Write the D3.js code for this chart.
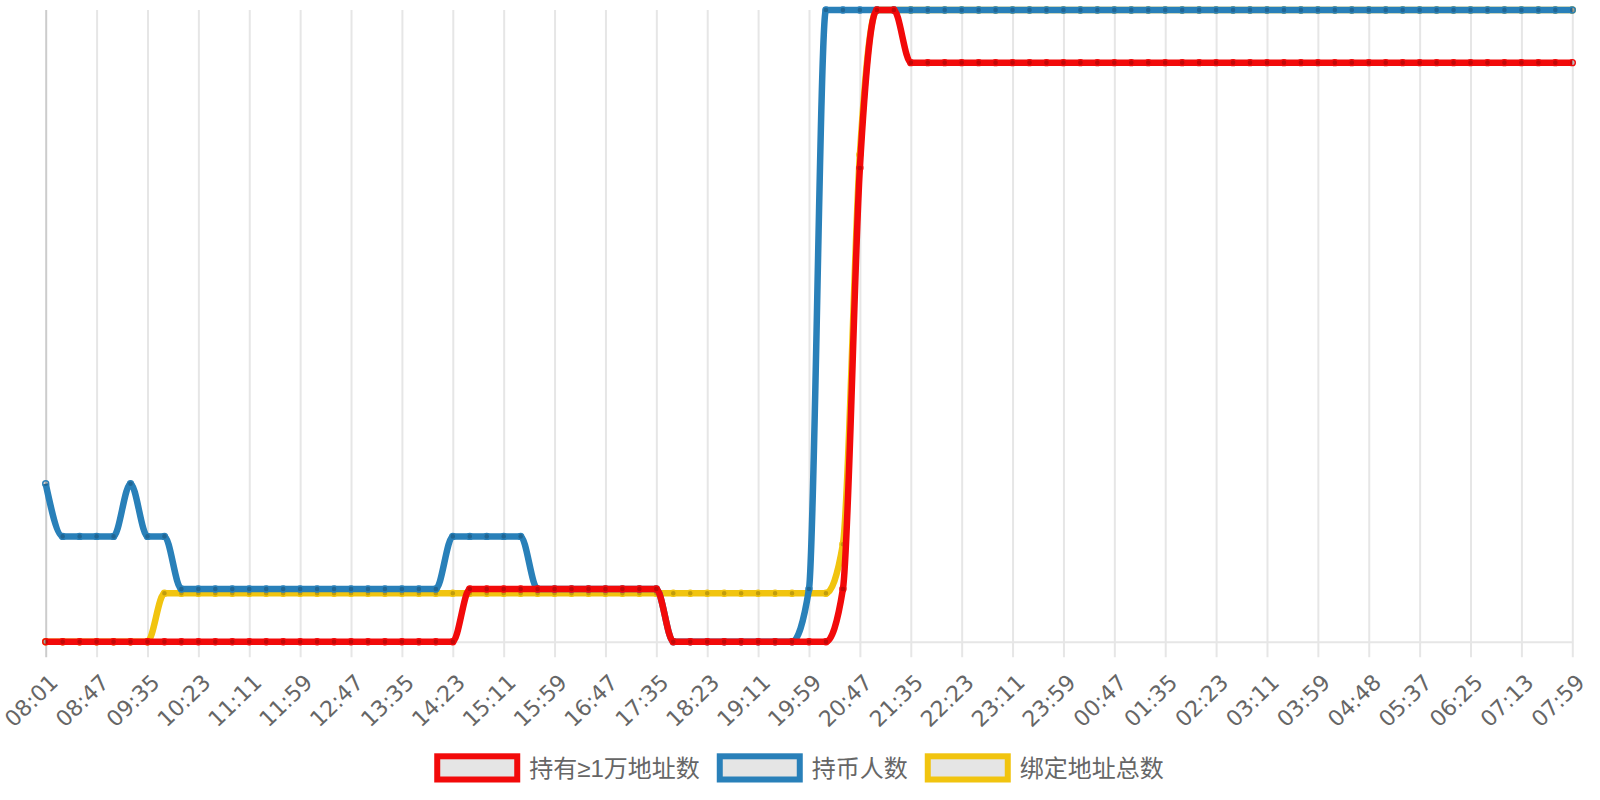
<!DOCTYPE html>
<html><head><meta charset="utf-8">
<script src="https://cdn.jsdelivr.net/npm/d3@7"></script>
<style>
html,body{margin:0;padding:0;background:#fff;}
svg{display:block;}
</style></head><body>
<svg id="chart" width="1600" height="800"></svg>
<script>
const categories = [
"08:01","08:16","08:32","08:47","09:03","09:19","09:35","09:51","10:07","10:23","10:39","10:55",
"11:11","11:27","11:43","11:59","12:15","12:31","12:47","13:03","13:19","13:35","13:51","14:07",
"14:23","14:39","14:55","15:11","15:27","15:43","15:59","16:15","16:31","16:47","17:03","17:19",
"17:35","17:51","18:07","18:23","18:39","18:55","19:11","19:27","19:43","19:59","20:15","20:31",
"20:47","21:03","21:19","21:35","21:51","22:07","22:23","22:39","22:55","23:11","23:27","23:43",
"23:59","00:15","00:31","00:47","01:03","01:19","01:35","01:51","02:07","02:23","02:39","02:55",
"03:11","03:27","03:43","03:59","04:15","04:32","04:48","05:04","05:21","05:37","05:53","06:09",
"06:25","06:41","06:57","07:13","07:28","07:44","07:59"];

const tickLabels = ["08:01","08:47","09:35","10:23","11:11","11:59","12:47","13:35","14:23","15:11",
"15:59","16:47","17:35","18:23","19:11","19:59","20:47","21:35","22:23","23:11","23:59","00:47",
"01:35","02:23","03:11","03:59","04:48","05:37","06:25","07:13","07:59"];

const seriesNames = ["持有≥1万地址数", "持币人数", "绑定地址总数"];

// 持有≥1万地址数
const redValues = [
0,0,0,0,0,0,0,0,0,0, 0,0,0,0,0,0,0,0,0,0, 0,0,0,0,0,
1,1,1,1,1,1,1,1,1,1,1,1,
0,0,0,0,0,0,0,0,0,0,
1,9,12,12,
11,11,11,11,11,11,11,11,11,11, 11,11,11,11,11,11,11,11,11,11,
11,11,11,11,11,11,11,11,11,11, 11,11,11,11,11,11,11,11,11,11];

// 持币人数
const blueValues = [
3,2,2,2,2,3,2,2,
1,1,1,1,1,1,1,1,1,1,1,1,1,1,1,1,
2,2,2,2,2,
1,1,1,1,1,1,1,1,
0,0,0,0,0,0,0,0,
1,
12,12,12,12,12,12,12,12,12,12, 12,12,12,12,12,12,12,12,12,12,
12,12,12,12,12,12,12,12,12,12, 12,12,12,12,12,12,12,12,12,12,
12,12,12,12,12];

// 绑定地址总数
const yellowValues = [
0,0,0,0,0,0,0,
0.92,0.92,0.92,0.92,0.92,0.92,0.92,0.92,0.92,0.92, 0.92,0.92,0.92,0.92,0.92,0.92,0.92,0.92,0.92,0.92,
0.92,0.92,0.92,0.92,0.92,0.92,0.92,0.92,0.92,0.92, 0.92,0.92,0.92,0.92,0.92,0.92,0.92,0.92,0.92,0.92,
1.85,9.25,
12,12,12,12,12,12,12,12,12,12, 12,12,12,12,12,12,12,12,12,12,
12,12,12,12,12,12,12,12,12,12, 12,12,12,12,12,12,12,12,12,12,
12,12];

const yDomain = [0, 12];

// ---- styles / layout (separate from data) ----
const seriesColors = ["#f20a0a", "#2980b9", "#f1c40f"];
const area = {left: 45.7, right: 1572.3, top: 10, bottom: 641.7};
const LEGEND_FONT = "'Liberation Sans', Arial, 'Noto Sans CJK SC', sans-serif";
const TICK_FONT = "'DejaVu Sans', sans-serif";

const svg = d3.select("#chart");
const x = d3.scalePoint().domain(categories).range([area.left, area.right]);
const y = d3.scaleLinear().domain(yDomain).range([area.bottom, area.top]);

// ---- x axis with grid ----
const xAxis = d3.axisBottom(x).tickValues(tickLabels).tickSizeInner(15.6).tickSizeOuter(0).tickPadding(0);
const gx = svg.append("g").attr("transform", `translate(0,${area.bottom})`).call(xAxis);
gx.attr("font-family", TICK_FONT).attr("font-size", 22);
gx.select(".domain").attr("stroke", "#e6e6e6").attr("stroke-width", 2);
gx.selectAll(".tick line")
  .attr("y1", -(area.bottom - area.top))
  .attr("stroke", (d, i) => i === 0 ? "#cccccc" : "#e6e6e6")
  .attr("stroke-width", 2);
gx.selectAll(".tick text")
  .attr("x", 0).attr("y", 0).attr("dy", null)
  .attr("fill", "#666")
  .attr("text-anchor", "end")
  .attr("dominant-baseline", "central")
  .attr("transform", "translate(8,37) rotate(-44)");

// ---- lines (drawn last-dataset-first, like Chart.js) ----
const allSeries = [redValues, blueValues, yellowValues];
const line = d3.line().x((d, i) => x(categories[i])).y(d => y(d)).curve(d3.curveMonotoneX);
const order = [2, 1, 0];
order.forEach(si => {
  const vals = allSeries[si];
  const g = svg.append("g");
  g.append("path").datum(vals)
    .attr("d", line)
    .attr("fill", "none")
    .attr("stroke", seriesColors[si])
    .attr("stroke-width", 6.5)
    .attr("stroke-linejoin", "round")
    .attr("stroke-linecap", "butt");
  g.selectAll("circle").data(vals).join("circle")
    .attr("cx", (d, i) => x(categories[i]))
    .attr("cy", d => y(d))
    .attr("r", 3)
    .attr("fill", "rgba(0,0,0,0.2)")
    .attr("stroke", seriesColors[si])
    .attr("stroke-width", 1.4);
});

// ---- legend ----
const lg = svg.append("g").attr("font-family", LEGEND_FONT).attr("font-size", 24);
let cursor = 0;
seriesNames.forEach((name, i) => {
  const it = lg.append("g");
  it.append("rect").attr("x", cursor).attr("y", 756.3).attr("width", 80).attr("height", 23.2)
    .attr("fill", "rgba(0,0,0,0.1)").attr("stroke", seriesColors[i]).attr("stroke-width", 6);
  const t = it.append("text").attr("x", cursor + 92).attr("y", 768.3)
    .attr("fill", "#666").attr("dominant-baseline", "central").text(name);
  const w = t.node().getComputedTextLength();
  cursor += 92 + w + 20;
});
const totalW = cursor - 20 + 3;
const legendLeft = 799 - totalW / 2 + 3;
lg.attr("transform", `translate(${legendLeft},0)`);
</script>
</body></html>
